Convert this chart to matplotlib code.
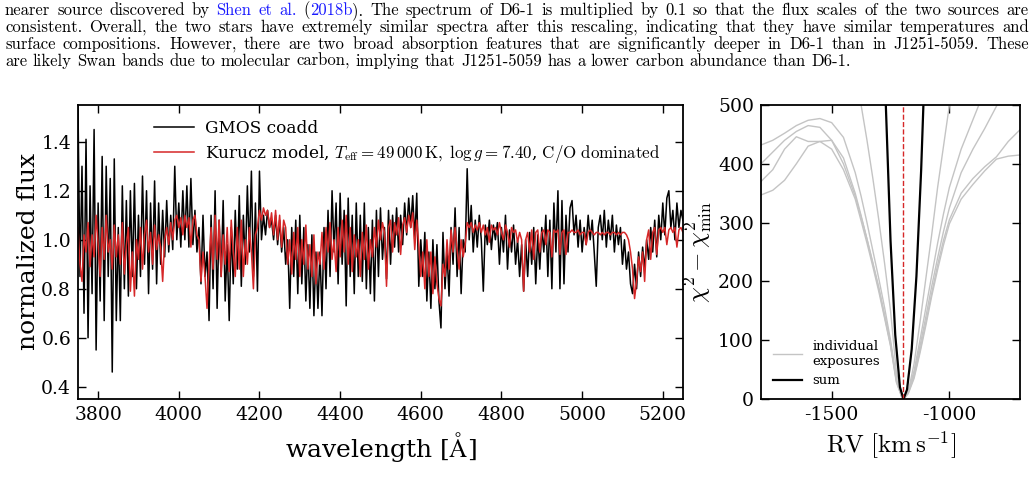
"""Spectrum fit and RV chi-square panels."""

import re
import numpy as np
import matplotlib
matplotlib.use('Agg')
import matplotlib.pyplot as plt

plt.rcParams['font.family'] = ['DejaVu Serif']
plt.rcParams['mathtext.fontset'] = 'cm'
plt.rcParams['axes.unicode_minus'] = False

# wavelength grid of the spectra (Angstrom)
wavelength = np.arange(3750, 5255, 5)

# GMOS coadd, normalized flux
gmos_flux = [
    1.55, 0.85, 1.30, 0.70, 1.41, 0.60, 1.22, 0.78, 1.45, 0.55, 1.15, 0.75, 1.34, 0.67, 1.30, 0.85, 1.25, 0.46, 1.33, 0.67,
    1.05, 0.67, 1.22, 0.80, 1.16, 0.77, 1.20, 0.85, 1.23, 0.80, 1.10, 0.85, 1.26, 0.90, 1.20, 0.78, 1.15, 0.88, 1.24, 0.82,
    1.15, 0.90, 1.12, 0.93, 1.16, 0.95, 1.10, 0.96, 1.30, 1.00, 1.15, 0.97, 1.20, 1.00, 1.22, 0.97, 1.25, 0.98, 1.12, 0.95,
    1.05, 0.82, 1.10, 0.85, 0.95, 0.67, 1.10, 0.80, 1.20, 0.72, 1.08, 0.85, 1.16, 0.75, 0.98, 0.67, 1.05, 0.82, 1.12, 0.88,
    1.18, 0.81, 1.10, 0.90, 1.22, 0.95, 1.28, 0.85, 1.15, 0.79, 1.28, 1.00, 1.10, 1.02, 1.12, 1.05, 1.08, 1.00, 1.10, 0.98,
    1.08, 0.95, 1.05, 0.90, 1.00, 0.72, 1.05, 0.85, 1.08, 0.78, 1.10, 0.82, 1.05, 0.75, 0.98, 0.72, 1.02, 0.69, 0.95, 0.72,
    0.95, 0.69, 1.05, 0.80, 1.12, 0.85, 1.20, 0.95, 1.15, 0.82, 1.19, 0.90, 1.12, 0.73, 1.17, 0.85, 1.10, 0.78, 1.15, 0.85,
    1.10, 0.83, 1.15, 0.80, 1.05, 0.78, 1.08, 0.75, 1.12, 0.85, 1.13, 0.92, 1.05, 0.84, 1.12, 0.90, 1.10, 0.97, 1.13, 0.95,
    1.10, 0.98, 1.15, 1.02, 1.17, 1.05, 1.18, 1.00, 1.19, 0.81, 1.00, 0.85, 1.03, 0.75, 0.95, 0.72, 1.00, 0.80, 0.98, 0.75,
    0.64, 1.03, 0.80, 0.95, 0.77, 1.05, 0.90, 1.13, 0.85, 1.05, 0.78, 1.00, 0.95, 1.29, 1.00, 1.14, 0.95, 1.08, 0.97, 1.10,
    1.00, 0.79, 1.06, 0.98, 1.08, 0.96, 1.06, 1.00, 1.07, 0.90, 1.05, 0.95, 1.10, 0.88, 1.04, 0.95, 1.06, 0.90, 1.00, 0.85,
    0.98, 0.79, 1.00, 0.85, 1.03, 0.90, 1.05, 0.82, 1.02, 0.88, 1.05, 0.95, 1.10, 0.85, 1.08, 0.80, 1.15, 0.95, 1.20, 0.80,
    1.16, 0.82, 1.10, 0.95, 1.13, 1.16, 1.02, 1.10, 0.97, 1.08, 0.95, 1.05, 0.98, 1.10, 1.00, 1.08, 0.95, 0.81, 1.05, 1.10,
    1.00, 1.12, 0.97, 1.08, 1.00, 1.10, 0.95, 1.06, 0.98, 1.05, 0.90, 1.00, 0.88, 0.95, 0.82, 0.78, 0.90, 0.80, 0.95, 0.85,
    0.97, 0.88, 1.00, 0.92, 1.05, 0.95, 1.08, 0.93, 1.10, 1.00, 1.15, 1.02, 1.17, 1.20, 1.05, 1.12, 1.00, 1.15, 1.05, 1.12, 1.08,
]

# Kurucz model, normalized flux
model_flux = [
    1.05, 0.90, 0.83, 1.02, 0.95, 1.07, 0.89, 1.02, 0.93, 1.10, 0.98, 0.85, 1.05, 0.92, 1.10, 0.95, 1.00, 0.88, 1.06, 0.93,
    1.02, 0.90, 1.07, 0.86, 0.98, 1.05, 0.79, 0.95, 0.77, 1.00, 0.92, 1.05, 0.88, 1.02, 1.08, 0.95, 1.03, 0.90, 1.06, 0.96,
    1.02, 0.97, 0.83, 1.00, 1.05, 0.98, 1.07, 1.00, 1.08, 1.10, 1.05, 1.09, 1.02, 1.10, 1.05, 1.09, 0.97, 1.08, 1.10, 1.02,
    1.00, 0.83, 0.95, 0.85, 0.72, 0.90, 1.05, 0.88, 1.10, 0.92, 1.08, 0.85, 1.02, 0.90, 1.05, 0.87, 1.08, 0.95, 0.85, 1.05,
    0.88, 1.08, 0.85, 1.00, 0.90, 1.05, 0.95, 0.80, 1.02, 1.05, 1.12, 1.08, 1.13, 1.10, 1.12, 1.05, 1.11, 1.02, 1.12, 1.00,
    1.10, 0.97, 1.08, 1.05, 0.90, 1.00, 0.86, 1.03, 0.92, 1.05, 0.85, 1.00, 0.90, 1.06, 0.88, 0.98, 0.85, 1.02, 0.82, 0.95,
    0.90, 1.03, 0.88, 1.05, 0.95, 1.07, 0.92, 1.00, 0.87, 1.05, 0.93, 1.08, 0.95, 1.10, 0.90, 1.05, 0.87, 1.02, 0.93, 1.00,
    0.85, 1.03, 0.92, 1.06, 0.88, 1.00, 0.93, 1.05, 0.97, 1.08, 1.00, 1.07, 1.03, 0.81, 1.05, 1.08, 0.95, 1.07, 1.02, 1.09,
    0.94, 1.06, 1.09, 1.03, 1.10, 1.05, 1.11, 0.96, 1.08, 0.98, 0.85, 0.95, 0.80, 1.00, 0.85, 0.95, 0.78, 0.93, 0.82, 0.76,
    0.73, 0.90, 0.85, 1.00, 0.88, 1.04, 0.95, 1.05, 0.96, 0.88, 1.00, 0.93, 0.98, 1.07, 1.05, 1.07, 1.03, 1.06, 1.04, 1.07,
    1.03, 1.06, 1.02, 1.05, 0.99, 1.06, 1.04, 1.05, 1.02, 1.07, 1.03, 1.00, 1.06, 1.03, 0.97, 1.05, 1.03, 1.04, 0.99, 1.03,
    1.00, 0.79, 1.00, 1.03, 0.95, 1.04, 0.92, 1.03, 1.04, 0.95, 1.03, 1.04, 0.98, 1.04, 1.03, 0.93, 1.04, 1.03, 1.04, 0.94,
    1.03, 1.04, 0.94, 1.03, 1.03, 1.04, 1.03, 1.03, 1.04, 1.02, 1.03, 1.03, 0.98, 1.03, 1.04, 1.03, 1.02, 1.03, 1.03, 1.02,
    1.03, 1.02, 1.03, 1.03, 1.02, 1.03, 1.03, 1.02, 1.03, 1.02, 1.03, 1.03, 1.02, 1.00, 0.95, 0.88, 0.76, 0.83, 0.93, 0.87,
    0.95, 0.83, 1.00, 1.04, 0.92, 1.03, 1.05, 0.94, 1.04, 1.05, 1.03, 1.05, 0.98, 1.04, 1.05, 1.03, 1.05, 0.97, 1.04, 1.05, 1.03,
]

# RV grid (km/s) for individual exposures
rv_grid = [-1800, -1750, -1700, -1650, -1600, -1550, -1500, -1450, -1400, -1375,
           -1350, -1325, -1300, -1275, -1250, -1225, -1200, -1195, -1175, -1150,
           -1125, -1100, -1075, -1050, -1025, -1000, -950, -900, -850, -800,
           -750, -700]

# chi2 - chi2_min for each individual exposure
exposures_chi2 = [
    [432, 440, 452, 465, 474, 477, 470, 445, 385, 345, 300, 252, 205, 155, 100, 34,
     1, 0, 12, 48, 100, 155, 210, 265, 315, 360, 425, 475, 525, 580, 640, 700],
    [400, 420, 440, 455, 465, 462, 440, 400, 345, 310, 272, 232, 190, 143, 95, 32,
     1, 0, 11, 42, 90, 140, 192, 240, 285, 325, 385, 425, 460, 498, 540, 580],
    [370, 390, 425, 446, 438, 438, 440, 410, 350, 312, 272, 230, 188, 140, 92, 30,
     1, 0, 10, 38, 82, 130, 180, 228, 270, 305, 350, 375, 395, 412, 438, 458],
    [347, 355, 372, 400, 430, 438, 425, 390, 340, 303, 265, 225, 183, 137, 90, 28,
     1, 0, 9, 35, 78, 125, 175, 220, 262, 298, 340, 365, 388, 408, 413, 415],
    [2000, 1700, 1400, 1150, 950, 800, 680, 600, 540, 500, 440, 375, 305, 230, 150, 45,
     1, 0, 12, 60, 130, 205, 280, 360, 430, 500, 640, 800, 980, 1180, 1400, 1650],
]

# summed chi2
rv_sum = [-1290, -1270, -1250, -1230, -1210, -1195, -1180, -1160, -1140, -1120, -1100]
chi2_sum = [802, 500, 269, 109, 20, 0, 16, 85, 209, 389, 620]
rv_best = -1195

caption_lines = [
    "nearer source discovered by [Shen] [et] [al.] ([2018b]). The spectrum of D6-1 is "
    "multiplied by 0.1 so that the flux scales of the two sources are",
    "consistent. Overall, the two stars have extremely similar spectra after this "
    "rescaling, indicating that they have similar temperatures and",
    "surface compositions. However, there are two broad absorption features that are "
    "significantly deeper in D6-1 than in J1251-5059. These",
    "are likely Swan bands due to molecular carbon, implying that J1251-5059 has a "
    "lower carbon abundance than D6-1.",
]

RED = '#d62728'


def style_axes(ax):
    """Inward ticks on all sides."""
    ax.tick_params(which='major', direction='in', top=True, right=True,
                   length=6, width=1, labelsize=13.5, pad=5)
    for sp in ax.spines.values():
        sp.set_linewidth(1.3)


def draw_caption(fig):
    """Justified caption text above the panels."""
    renderer = fig.canvas.get_renderer()
    W, H = fig.bbox.width, fig.bbox.height
    kw = dict(fontsize=12.0, family=['cmr10', 'DejaVu Serif'], va='baseline')
    x_left, x_right = 5, 1029
    baselines = [15, 32, 49, 66]

    def width(s):
        t = fig.text(0, 0, s, **kw)
        w = t.get_window_extent(renderer).width
        t.remove()
        return w

    space = width('a a') - width('aa')
    for i, line in enumerate(caption_lines):
        words = []
        for word in line.split(' '):
            pieces = []
            for p in re.split(r'(\[[^\]]*\])', word):
                if not p:
                    continue
                if p.startswith('['):
                    pieces.append((p[1:-1], '#1a1aff'))
                else:
                    pieces.append((p, 'black'))
            words.append((pieces, sum(width(p) for p, _ in pieces)))
        total = sum(w for _, w in words)
        if i < len(caption_lines) - 1:
            gap = (x_right - x_left - total) / (len(words) - 1)
        else:
            gap = space
        x = x_left
        y = 1 - baselines[i] / H
        for pieces, w in words:
            xp = x
            for p, c in pieces:
                fig.text(xp / W, y, p, color=c, **kw)
                xp += width(p)
            x += w + gap


def main():
    """Build the figure."""
    fig = plt.figure(figsize=(10.34, 4.8), dpi=100)

    ax = fig.add_axes([0.0754, 0.16875, 0.5851, 0.6125])
    ax.plot(wavelength, gmos_flux, color='black', lw=1.1, label='GMOS coadd')
    ax.plot(wavelength, model_flux, color=RED, lw=1.1,
            label=r'Kurucz model, $T_{\rm eff} = 49\,000\,\mathrm{K},\ \log g = 7.40$, '
                  r'$\mathrm{C/O\ dominated}$')
    ax.set_xlim(3750, 5250)
    ax.set_ylim(0.35, 1.55)
    ax.set_xticks(np.arange(3800, 5201, 200))
    ax.set_yticks([0.4, 0.6, 0.8, 1.0, 1.2, 1.4])
    ax.set_xlabel(r'wavelength [$\mathrm{\AA}$]', fontsize=18)
    ax.set_ylabel('normalized flux', fontsize=18, labelpad=1)
    style_axes(ax)
    ax.legend(loc='upper left', bbox_to_anchor=(0.1, 1.0), frameon=False,
              fontsize=12.2, handlelength=2.4, handletextpad=0.6, labelspacing=0.35)

    ax2 = fig.add_axes([0.736, 0.16875, 0.2505, 0.6125])
    for i, chi2 in enumerate(exposures_chi2):
        ax2.plot(rv_grid, chi2, color='#c4c4c4', lw=1.0,
                 label='individual\nexposures' if i == 0 else None)
    ax2.plot(rv_sum, chi2_sum, color='black', lw=1.6, label='sum')
    ax2.axvline(rv_best, color=RED, ls='--', lw=1.0)
    ax2.set_xlim(-1800, -700)
    ax2.set_ylim(0, 500)
    ax2.set_xticks([-1500, -1000])
    ax2.set_yticks(np.arange(0, 501, 100))
    ax2.set_xlabel(r'$\mathrm{RV\ [km\,s^{-1}]}$', fontsize=18)
    ax2.set_ylabel(r'$\chi^2 - \chi^2_{\rm min}$', fontsize=18, labelpad=2)
    style_axes(ax2)
    ax2.legend(loc='lower left', bbox_to_anchor=(0.0, 0.0), frameon=False,
               fontsize=9.5, handlelength=2.2, handletextpad=0.8, labelspacing=0.5)

    draw_caption(fig)
    fig.savefig('out.png', dpi=100)


if __name__ == '__main__':
    main()
